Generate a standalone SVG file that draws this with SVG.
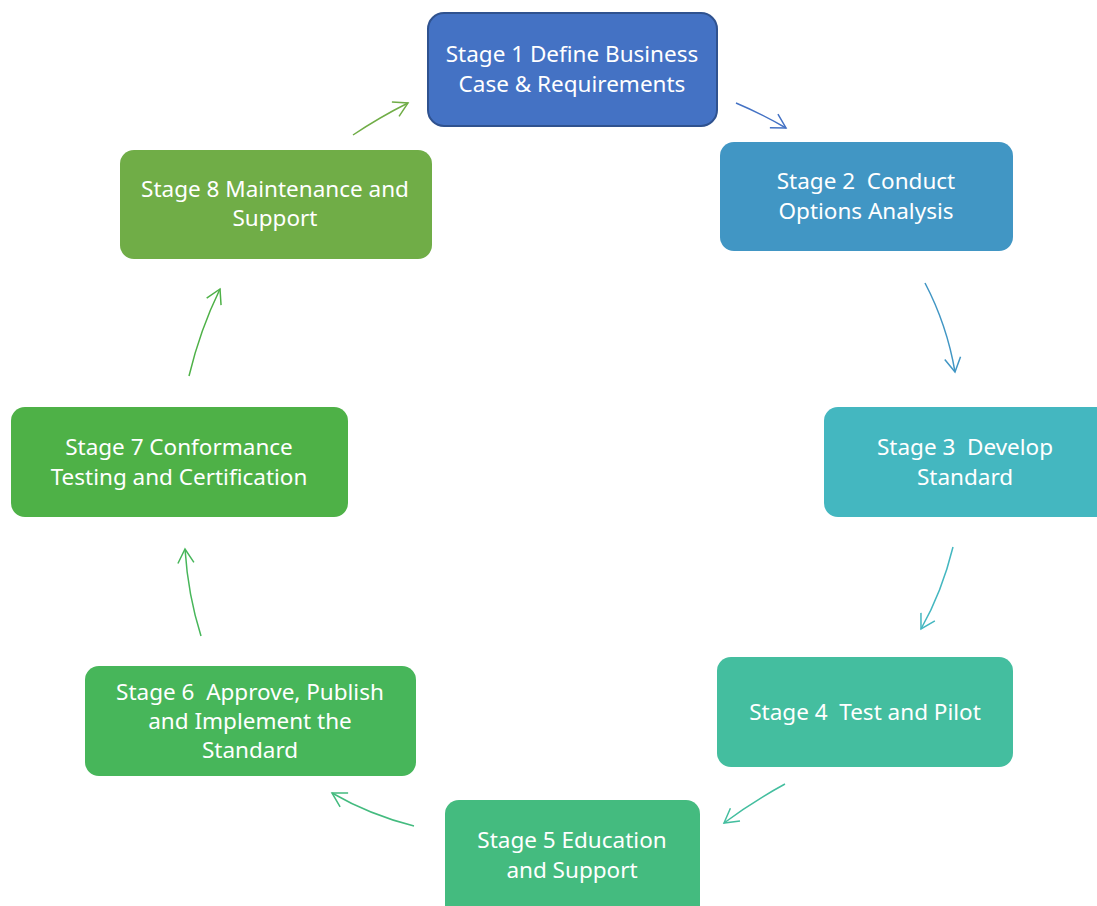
<svg xmlns="http://www.w3.org/2000/svg" width="1097" height="906" viewBox="0 0 1097 906">
<style>
.box{stroke:none}
.t{font-family:"Noto Sans","Open Sans",sans-serif;font-size:22.5px;fill:#ffffff;text-anchor:middle;white-space:pre}
.c{fill:none;stroke-width:1.5}
</style>
<defs>
<marker id="m1" viewBox="0 0 20 20" refX="18" refY="10" markerWidth="20" markerHeight="20" markerUnits="userSpaceOnUse" orient="auto"><path d="M4,2 L18,10 L4,18" fill="none" stroke="#4472C4" stroke-width="1.5"/></marker>
<marker id="m2" viewBox="0 0 20 20" refX="18" refY="10" markerWidth="20" markerHeight="20" markerUnits="userSpaceOnUse" orient="auto"><path d="M4,2 L18,10 L4,18" fill="none" stroke="#4196C4" stroke-width="1.5"/></marker>
<marker id="m3" viewBox="0 0 20 20" refX="18" refY="10" markerWidth="20" markerHeight="20" markerUnits="userSpaceOnUse" orient="auto"><path d="M4,2 L18,10 L4,18" fill="none" stroke="#44B7C0" stroke-width="1.5"/></marker>
<marker id="m4" viewBox="0 0 20 20" refX="18" refY="10" markerWidth="20" markerHeight="20" markerUnits="userSpaceOnUse" orient="auto"><path d="M4,2 L18,10 L4,18" fill="none" stroke="#44BE9F" stroke-width="1.5"/></marker>
<marker id="m5" viewBox="0 0 20 20" refX="18" refY="10" markerWidth="20" markerHeight="20" markerUnits="userSpaceOnUse" orient="auto"><path d="M4,2 L18,10 L4,18" fill="none" stroke="#44BB7F" stroke-width="1.5"/></marker>
<marker id="m6" viewBox="0 0 20 20" refX="18" refY="10" markerWidth="20" markerHeight="20" markerUnits="userSpaceOnUse" orient="auto"><path d="M4,2 L18,10 L4,18" fill="none" stroke="#47B65A" stroke-width="1.5"/></marker>
<marker id="m7" viewBox="0 0 20 20" refX="18" refY="10" markerWidth="20" markerHeight="20" markerUnits="userSpaceOnUse" orient="auto"><path d="M4,2 L18,10 L4,18" fill="none" stroke="#4EB147" stroke-width="1.5"/></marker>
<marker id="m8" viewBox="0 0 20 20" refX="18" refY="10" markerWidth="20" markerHeight="20" markerUnits="userSpaceOnUse" orient="auto"><path d="M4,2 L18,10 L4,18" fill="none" stroke="#70AD47" stroke-width="1.5"/></marker>
</defs>
<rect width="1097" height="906" fill="#ffffff"/>
<g id="node1"><rect x="428" y="13" width="289" height="113" rx="16" fill="#4472C4" stroke="#2F528F" stroke-width="2"/><text class="t" x="572" y="62">Stage 1 Define Business</text><text class="t" x="572" y="92">Case &amp; Requirements</text></g>
<g id="node2"><rect x="720" y="142" width="293" height="109" rx="14" fill="#4196C4"/><text class="t" x="866" y="189" xml:space="preserve">Stage 2  Conduct</text><text class="t" x="866" y="219">Options Analysis</text></g>
<g id="node3"><rect x="824" y="407" width="290" height="110" rx="14" fill="#44B7C0"/><text class="t" x="965" y="455" xml:space="preserve">Stage 3  Develop</text><text class="t" x="965" y="485">Standard</text></g>
<g id="node4"><rect x="717" y="657" width="296" height="110" rx="14" fill="#44BE9F"/><text class="t" x="865" y="720" xml:space="preserve">Stage 4  Test and Pilot</text></g>
<g id="node5"><rect x="445" y="800" width="255" height="120" rx="14" fill="#44BB7F"/><text class="t" x="572" y="848">Stage 5 Education</text><text class="t" x="572" y="878">and Support</text></g>
<g id="node6"><rect x="85" y="666" width="331" height="110" rx="14" fill="#47B65A"/><text class="t" x="250" y="700" xml:space="preserve">Stage 6  Approve, Publish</text><text class="t" x="250" y="729">and Implement the</text><text class="t" x="250" y="758">Standard</text></g>
<g id="node7"><rect x="11" y="407" width="337" height="110" rx="14" fill="#4EB147"/><text class="t" x="179" y="455">Stage 7 Conformance</text><text class="t" x="179" y="485">Testing and Certification</text></g>
<g id="node8"><rect x="120" y="150" width="312" height="109" rx="14" fill="#70AD47"/><text class="t" x="275" y="197">Stage 8 Maintenance and</text><text class="t" x="275" y="226">Support</text></g>
<g id="connectors">
<path class="c" d="M736,103 Q762,114 786,128" stroke="#4472C4" marker-end="url(#m1)"/>
<path class="c" d="M925,283 Q947,325 955,372" stroke="#4196C4" marker-end="url(#m2)"/>
<path class="c" d="M953,547 Q942,592 921,629" stroke="#44B7C0" marker-end="url(#m3)"/>
<path class="c" d="M785,784 Q752,802 724,823" stroke="#44BE9F" marker-end="url(#m4)"/>
<path class="c" d="M414,826 Q370,815 332,793" stroke="#44BB7F" marker-end="url(#m5)"/>
<path class="c" d="M201,636 Q188,595 185,549" stroke="#47B65A" marker-end="url(#m6)"/>
<path class="c" d="M189,376 Q200,330 220,289" stroke="#4EB147" marker-end="url(#m7)"/>
<path class="c" d="M353,135 Q380,117 408,103" stroke="#70AD47" marker-end="url(#m8)"/>
</g>
</svg>
